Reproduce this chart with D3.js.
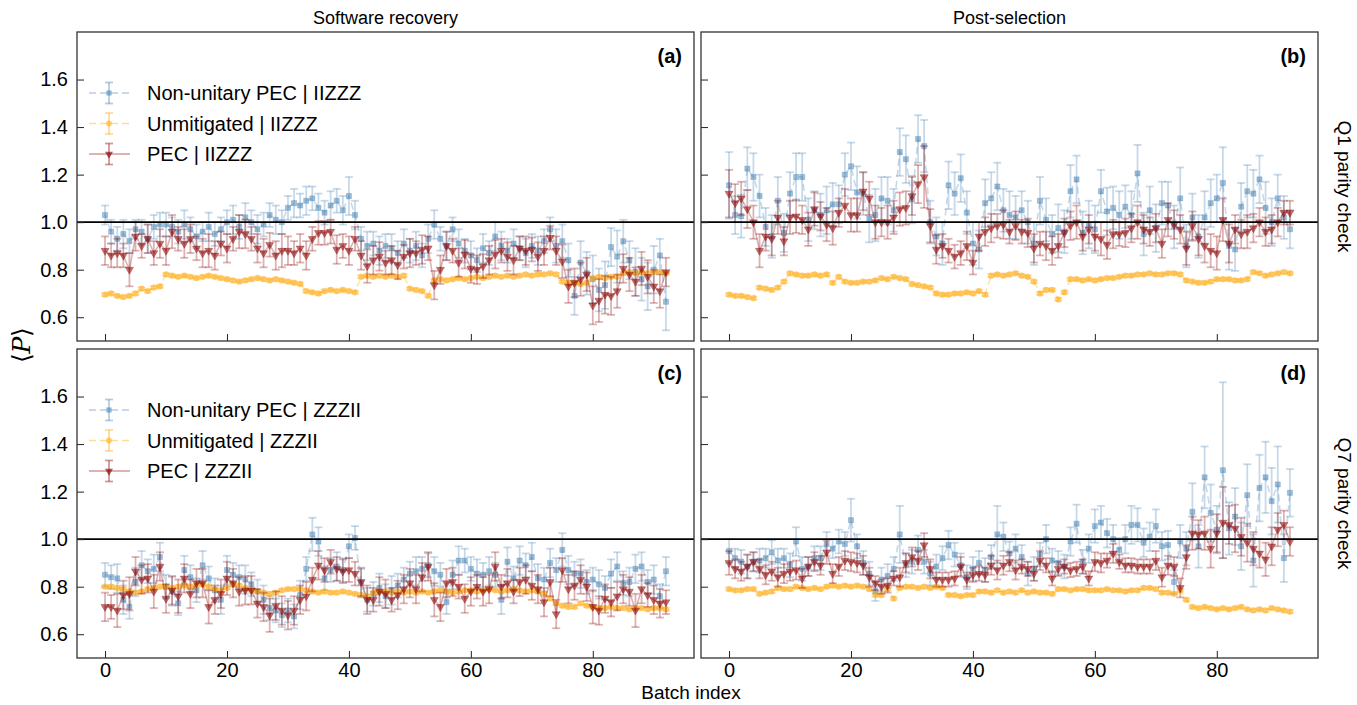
<!DOCTYPE html>
<html>
<head>
<meta charset="utf-8">
<script src="https://cdn.jsdelivr.net/npm/d3@7"></script>
<style>
body { margin: 0; background: #fff; }
text { font-family: "Liberation Sans", Arial, sans-serif; fill: #000; }
</style>
</head>
<body>
<div id="viz"></div>
<script>
// tick labels
const xTicks = [0, 20, 40, 60, 80];
const yTicks = [0.6, 0.8, 1.0, 1.2, 1.4, 1.6];
const seriesNames = ['Non-unitary PEC', 'Unmitigated', 'PEC'];

// ---- (a) software recovery, Q1 / IIZZZ ----
const aNonUnitary = [
1.03, 0.96, 0.93, 0.95, 0.92, 0.97, 0.96, 0.93, 0.98, 0.99,
0.99, 0.98, 0.96, 0.99, 0.97, 0.94, 0.96, 0.98, 0.95, 0.97,
1.00, 1.01, 0.98, 1.02, 1.00, 0.97, 0.99, 1.03, 1.01, 1.00,
1.06, 1.08, 1.07, 1.09, 1.10, 1.06, 1.04, 1.07, 1.09, 1.05,
1.11, 1.03, 0.93, 0.90, 0.91, 0.88, 0.90, 0.89, 0.87, 0.91,
0.88, 0.90, 0.86, 0.93, 0.99, 0.93, 0.90, 0.97, 0.91, 0.88,
0.86, 0.84, 0.89, 0.87, 0.94, 0.90, 0.88, 0.91, 0.89, 0.87,
0.90, 0.88, 0.92, 0.97, 0.90, 0.92, 0.84, 0.69, 0.83, 0.785,
0.76, 0.715, 0.735, 0.895, 0.855, 0.92, 0.84, 0.79, 0.76, 0.73,
0.80, 0.86, 0.665];
const aNonUnitaryErr = [
0.04, 0.05, 0.05, 0.06, 0.05, 0.04, 0.05, 0.06, 0.05, 0.05,
0.05, 0.04, 0.05, 0.06, 0.05, 0.05, 0.04, 0.06, 0.05, 0.05,
0.05, 0.06, 0.05, 0.06, 0.05, 0.06, 0.05, 0.05, 0.06, 0.05,
0.05, 0.06, 0.05, 0.06, 0.05, 0.06, 0.05, 0.06, 0.05, 0.06,
0.08, 0.06, 0.05, 0.06, 0.05, 0.06, 0.05, 0.06, 0.05, 0.06,
0.05, 0.06, 0.05, 0.06, 0.06, 0.05, 0.06, 0.05, 0.06, 0.05,
0.06, 0.05, 0.06, 0.05, 0.06, 0.06, 0.05, 0.06, 0.05, 0.06,
0.05, 0.06, 0.05, 0.05, 0.07, 0.07, 0.07, 0.08, 0.09, 0.09,
0.10, 0.09, 0.10, 0.08, 0.11, 0.09, 0.08, 0.10, 0.09, 0.10,
0.10, 0.07, 0.12];
const aUnmit = [
0.695, 0.70, 0.69, 0.685, 0.69, 0.70, 0.72, 0.71, 0.725, 0.73,
0.78, 0.775, 0.77, 0.775, 0.77, 0.765, 0.77, 0.775, 0.77, 0.765,
0.76, 0.755, 0.75, 0.755, 0.76, 0.765, 0.76, 0.755, 0.76, 0.755,
0.75, 0.745, 0.74, 0.71, 0.705, 0.70, 0.71, 0.715, 0.71, 0.715,
0.71, 0.705, 0.77, 0.775, 0.77, 0.775, 0.77, 0.775, 0.77, 0.775,
0.72, 0.715, 0.71, 0.69, 0.755, 0.76, 0.755, 0.76, 0.765, 0.76,
0.765, 0.77, 0.765, 0.77, 0.775, 0.77, 0.775, 0.77, 0.775, 0.78,
0.775, 0.78, 0.78, 0.785, 0.78, 0.75, 0.745, 0.745, 0.74, 0.745,
0.765, 0.77, 0.765, 0.77, 0.77, 0.785, 0.79, 0.785, 0.79, 0.785,
0.79, 0.79, 0.785];
const aPec = [
0.88, 0.86, 0.87, 0.86, 0.80, 0.94, 0.90, 0.93, 0.87, 0.91,
0.88, 0.96, 0.93, 0.91, 0.93, 0.89, 0.87, 0.88, 0.86, 0.91,
0.89, 0.93, 0.96, 0.95, 0.93, 0.89, 0.87, 0.905, 0.86, 0.88,
0.88, 0.87, 0.89, 0.86, 0.93, 0.955, 0.955, 0.96, 0.885, 0.90,
0.88, 0.93, 0.86, 0.815, 0.84, 0.856, 0.83, 0.84, 0.82, 0.855,
0.87, 0.87, 0.885, 0.89, 0.735, 0.80, 0.90, 0.88, 0.83, 0.865,
0.805, 0.80, 0.815, 0.84, 0.865, 0.88, 0.855, 0.84, 0.89, 0.88,
0.885, 0.855, 0.88, 0.935, 0.88, 0.835, 0.73, 0.745, 0.76, 0.78,
0.65, 0.67, 0.695, 0.69, 0.71, 0.805, 0.78, 0.75, 0.805, 0.77,
0.73, 0.71, 0.79];
const aPecErr = [
0.06, 0.05, 0.06, 0.05, 0.07, 0.06, 0.05, 0.06, 0.05, 0.06,
0.06, 0.07, 0.05, 0.06, 0.06, 0.05, 0.06, 0.07, 0.06, 0.05,
0.06, 0.05, 0.07, 0.06, 0.05, 0.06, 0.06, 0.05, 0.06, 0.07,
0.06, 0.05, 0.06, 0.06, 0.05, 0.05, 0.05, 0.05, 0.06, 0.05,
0.06, 0.05, 0.06, 0.07, 0.06, 0.06, 0.05, 0.06, 0.06, 0.05,
0.06, 0.05, 0.06, 0.05, 0.06, 0.06, 0.06, 0.05, 0.06, 0.06,
0.06, 0.06, 0.05, 0.06, 0.06, 0.05, 0.06, 0.06, 0.05, 0.06,
0.05, 0.06, 0.06, 0.05, 0.06, 0.07, 0.07, 0.06, 0.07, 0.07,
0.08, 0.09, 0.08, 0.08, 0.07, 0.06, 0.07, 0.06, 0.07, 0.07,
0.07, 0.07, 0.06];

// ---- (b) post-selection, Q1 / IIZZZ ----
const bNonUnitary = [
1.155, 1.03, 1.025, 1.225, 1.19, 1.11, 0.98, 0.94, 1.09, 0.955,
1.12, 1.19, 1.19, 1.01, 1.05, 1.03, 1.05, 1.075, 1.075, 1.20,
1.235, 1.125, 1.12, 1.015, 1.03, 1.10, 1.09, 1.05, 1.295, 1.265,
1.095, 1.35, 1.32, 1.0, 0.94, 0.91, 1.155, 1.12, 1.185, 1.04,
0.91, 0.885, 1.08, 1.10, 1.15, 1.05, 1.03, 1.02, 1.05, 1.0,
0.91, 1.09, 1.01, 0.95, 0.975, 0.96, 1.13, 1.18, 0.955, 0.99,
0.97, 1.13, 1.045, 1.06, 1.03, 1.065, 1.03, 1.205, 0.95, 1.05,
0.975, 1.08, 1.07, 0.98, 1.10, 0.90, 1.02, 0.94, 1.02, 1.08,
1.10, 1.165, 0.90, 0.885, 1.065, 1.13, 1.12, 1.18, 1.06, 1.0,
1.10, 1.02, 0.97];
const bNonUnitaryErr = [
0.14, 0.08, 0.09, 0.09, 0.10, 0.09, 0.08, 0.09, 0.10, 0.08,
0.09, 0.10, 0.10, 0.09, 0.08, 0.09, 0.10, 0.09, 0.08, 0.09,
0.10, 0.11, 0.09, 0.10, 0.11, 0.09, 0.10, 0.09, 0.10, 0.10,
0.10, 0.10, 0.11, 0.09, 0.08, 0.09, 0.10, 0.09, 0.10, 0.09,
0.09, 0.08, 0.10, 0.11, 0.10, 0.09, 0.10, 0.09, 0.08, 0.09,
0.09, 0.10, 0.09, 0.08, 0.10, 0.09, 0.11, 0.10, 0.09, 0.10,
0.10, 0.09, 0.10, 0.09, 0.10, 0.09, 0.10, 0.12, 0.09, 0.10,
0.10, 0.09, 0.10, 0.09, 0.13, 0.09, 0.10, 0.09, 0.11, 0.10,
0.10, 0.15, 0.10, 0.09, 0.10, 0.11, 0.10, 0.10, 0.11, 0.10,
0.10, 0.09, 0.08];
const bUnmit = [
0.695, 0.69, 0.69, 0.685, 0.68, 0.725, 0.72, 0.715, 0.725, 0.75,
0.785, 0.78, 0.775, 0.775, 0.78, 0.775, 0.78, 0.745, 0.77, 0.75,
0.745, 0.745, 0.75, 0.75, 0.755, 0.765, 0.76, 0.77, 0.765, 0.76,
0.74, 0.735, 0.73, 0.725, 0.70, 0.695, 0.695, 0.70, 0.70, 0.705,
0.70, 0.71, 0.695, 0.775, 0.78, 0.775, 0.78, 0.785, 0.775, 0.77,
0.75, 0.70, 0.715, 0.715, 0.675, 0.705, 0.76, 0.76, 0.755, 0.76,
0.755, 0.76, 0.765, 0.765, 0.77, 0.775, 0.775, 0.78, 0.78, 0.785,
0.78, 0.78, 0.785, 0.785, 0.78, 0.755, 0.75, 0.745, 0.745, 0.75,
0.76, 0.76, 0.76, 0.755, 0.755, 0.76, 0.79, 0.785, 0.775, 0.78,
0.785, 0.79, 0.785];
const bPec = [
1.12, 1.08, 1.10, 1.055, 1.0, 0.88, 0.94, 0.93, 1.02, 0.92,
1.02, 1.025, 1.01, 0.97, 1.055, 1.025, 0.99, 0.975, 1.04, 1.07,
1.03, 1.03, 1.13, 1.10, 1.0, 1.0, 1.0, 1.02, 1.055, 1.06,
1.11, 1.16, 1.19, 0.985, 0.885, 0.90, 0.88, 0.855, 0.87, 0.90,
0.83, 0.94, 0.96, 0.975, 0.985, 0.99, 0.96, 0.985, 0.96, 0.955,
0.89, 0.91, 0.90, 0.88, 0.90, 0.955, 0.985, 1.0, 0.94, 0.97,
0.94, 0.93, 0.905, 0.95, 0.95, 0.955, 0.975, 1.0, 0.97, 0.96,
0.975, 0.91, 1.01, 0.99, 0.97, 0.89, 0.985, 0.93, 0.90, 0.88,
0.87, 1.01, 0.91, 0.97, 0.95, 0.96, 0.975, 1.0, 0.96, 0.97,
1.0, 1.04, 1.04];
const bPecErr = [
0.10, 0.08, 0.07, 0.08, 0.07, 0.07, 0.06, 0.07, 0.07, 0.06,
0.07, 0.07, 0.06, 0.07, 0.07, 0.06, 0.07, 0.07, 0.06, 0.07,
0.07, 0.07, 0.08, 0.07, 0.07, 0.06, 0.07, 0.07, 0.07, 0.07,
0.08, 0.08, 0.13, 0.07, 0.06, 0.05, 0.05, 0.05, 0.05, 0.06,
0.05, 0.06, 0.06, 0.06, 0.05, 0.06, 0.05, 0.06, 0.05, 0.06,
0.06, 0.05, 0.06, 0.06, 0.05, 0.06, 0.06, 0.07, 0.06, 0.06,
0.06, 0.07, 0.06, 0.06, 0.05, 0.06, 0.06, 0.07, 0.06, 0.06,
0.06, 0.06, 0.07, 0.06, 0.06, 0.07, 0.06, 0.07, 0.07, 0.07,
0.07, 0.09, 0.08, 0.06, 0.06, 0.07, 0.06, 0.06, 0.06, 0.06,
0.06, 0.05, 0.05];

// ---- (c) software recovery, Q7 / ZZZII ----
const cNonUnitary = [
0.85, 0.84, 0.835, 0.745, 0.715, 0.82, 0.89, 0.865, 0.875, 0.925,
0.80, 0.78, 0.73, 0.87, 0.84, 0.785, 0.89, 0.835, 0.785, 0.745,
0.87, 0.85, 0.84, 0.83, 0.81, 0.78, 0.745, 0.71, 0.70, 0.68,
0.70, 0.675, 0.765, 0.875, 1.02, 0.99, 0.835, 0.87, 0.885, 0.87,
0.97, 1.005, 0.815, 0.745, 0.77, 0.795, 0.76, 0.785, 0.805, 0.83,
0.855, 0.865, 0.875, 0.89, 0.865, 0.85, 0.735, 0.85, 0.91, 0.91,
0.875, 0.855, 0.85, 0.865, 0.85, 0.745, 0.905, 0.835, 0.91, 0.89,
0.925, 0.835, 0.83, 0.90, 0.87, 0.955, 0.87, 0.855, 0.855, 0.82,
0.83, 0.81, 0.795, 0.855, 0.885, 0.815, 0.82, 0.875, 0.885, 0.82,
0.83, 0.76, 0.865];
const cNonUnitaryErr = [
0.05, 0.05, 0.06, 0.06, 0.05, 0.06, 0.06, 0.05, 0.06, 0.06,
0.05, 0.06, 0.05, 0.06, 0.05, 0.05, 0.06, 0.05, 0.05, 0.06,
0.06, 0.05, 0.05, 0.06, 0.05, 0.05, 0.06, 0.05, 0.05, 0.05,
0.05, 0.05, 0.06, 0.05, 0.07, 0.06, 0.05, 0.05, 0.06, 0.05,
0.05, 0.05, 0.06, 0.05, 0.05, 0.06, 0.05, 0.06, 0.05, 0.05,
0.05, 0.06, 0.05, 0.05, 0.06, 0.05, 0.05, 0.06, 0.06, 0.05,
0.05, 0.06, 0.05, 0.06, 0.05, 0.06, 0.06, 0.05, 0.06, 0.05,
0.06, 0.06, 0.05, 0.06, 0.05, 0.07, 0.06, 0.05, 0.06, 0.05,
0.05, 0.06, 0.05, 0.06, 0.06, 0.05, 0.06, 0.06, 0.06, 0.05,
0.06, 0.05, 0.06];
const cUnmit = [
0.80, 0.80, 0.795, 0.79, 0.78, 0.775, 0.78, 0.79, 0.795, 0.80,
0.80, 0.795, 0.80, 0.805, 0.80, 0.805, 0.81, 0.80, 0.79, 0.785,
0.795, 0.81, 0.805, 0.795, 0.785, 0.78, 0.775, 0.77, 0.775, 0.785,
0.79, 0.79, 0.79, 0.785, 0.78, 0.775, 0.78, 0.775, 0.775, 0.78,
0.775, 0.77, 0.765, 0.76, 0.775, 0.78, 0.78, 0.775, 0.78, 0.775,
0.78, 0.775, 0.78, 0.775, 0.78, 0.785, 0.78, 0.775, 0.78, 0.785,
0.785, 0.78, 0.785, 0.79, 0.785, 0.78, 0.785, 0.79, 0.785, 0.78,
0.785, 0.78, 0.77, 0.75, 0.73, 0.72, 0.715, 0.715, 0.73, 0.72,
0.715, 0.71, 0.71, 0.715, 0.71, 0.71, 0.705, 0.71, 0.71, 0.705,
0.71, 0.71, 0.705];
const cPec = [
0.715, 0.715, 0.70, 0.765, 0.77, 0.865, 0.83, 0.835, 0.78, 0.885,
0.75, 0.785, 0.76, 0.835, 0.77, 0.815, 0.815, 0.715, 0.745, 0.77,
0.835, 0.815, 0.78, 0.785, 0.785, 0.73, 0.715, 0.68, 0.72, 0.70,
0.68, 0.70, 0.745, 0.76, 0.83, 0.89, 0.87, 0.905, 0.875, 0.865,
0.87, 0.855, 0.82, 0.745, 0.745, 0.78, 0.77, 0.745, 0.765, 0.79,
0.815, 0.79, 0.84, 0.885, 0.745, 0.715, 0.815, 0.82, 0.80, 0.75,
0.78, 0.80, 0.78, 0.79, 0.885, 0.80, 0.815, 0.78, 0.82, 0.83,
0.805, 0.79, 0.735, 0.82, 0.685, 0.87, 0.79, 0.805, 0.83, 0.80,
0.715, 0.70, 0.75, 0.735, 0.76, 0.79, 0.78, 0.70, 0.79, 0.765,
0.745, 0.73, 0.735];
const cPecErr = [
0.06, 0.05, 0.07, 0.06, 0.07, 0.06, 0.06, 0.06, 0.07, 0.06,
0.06, 0.06, 0.07, 0.06, 0.06, 0.06, 0.06, 0.07, 0.06, 0.06,
0.07, 0.06, 0.06, 0.06, 0.06, 0.06, 0.06, 0.07, 0.06, 0.06,
0.06, 0.06, 0.06, 0.06, 0.05, 0.06, 0.05, 0.05, 0.05, 0.05,
0.05, 0.05, 0.06, 0.06, 0.05, 0.06, 0.06, 0.05, 0.06, 0.06,
0.06, 0.06, 0.06, 0.06, 0.07, 0.06, 0.06, 0.06, 0.05, 0.06,
0.06, 0.05, 0.06, 0.06, 0.06, 0.05, 0.06, 0.05, 0.06, 0.06,
0.06, 0.06, 0.06, 0.06, 0.06, 0.05, 0.06, 0.06, 0.06, 0.06,
0.07, 0.06, 0.06, 0.06, 0.06, 0.06, 0.06, 0.07, 0.06, 0.05,
0.06, 0.06, 0.05];

// ---- (d) post-selection, Q7 / ZZZII ----
const dNonUnitary = [
0.95, 0.92, 0.905, 0.885, 0.905, 0.91, 0.92, 0.945, 0.91, 0.92,
0.89, 0.99, 0.875, 0.885, 0.92, 0.92, 0.98, 0.96, 0.99, 0.98,
1.08, 0.97, 0.90, 0.855, 0.78, 0.83, 0.845, 0.875, 1.02, 0.89,
0.905, 0.955, 0.905, 0.855, 0.885, 0.92, 0.975, 0.935, 0.89, 0.84,
0.875, 0.90, 0.87, 0.925, 1.02, 1.01, 0.94, 0.96, 0.925, 0.855,
0.875, 0.935, 1.0, 0.91, 0.90, 0.885, 0.99, 1.065, 0.905, 0.96,
1.055, 1.07, 1.025, 1.0, 0.955, 1.0, 1.06, 1.06, 0.985, 1.01,
1.055, 0.97, 0.975, 0.82, 0.99, 0.96, 1.115, 0.97, 1.26, 1.11,
1.04, 1.29, 1.045, 1.095, 0.97, 1.185, 0.91, 1.215, 1.26, 1.16,
1.23, 0.92, 1.195];
const dNonUnitaryErr = [
0.05, 0.04, 0.05, 0.05, 0.04, 0.05, 0.04, 0.05, 0.05, 0.04,
0.05, 0.06, 0.05, 0.04, 0.05, 0.05, 0.05, 0.04, 0.05, 0.05,
0.09, 0.05, 0.05, 0.05, 0.04, 0.05, 0.05, 0.05, 0.12, 0.05,
0.05, 0.06, 0.05, 0.05, 0.05, 0.05, 0.06, 0.05, 0.05, 0.05,
0.05, 0.05, 0.05, 0.05, 0.12, 0.06, 0.05, 0.06, 0.05, 0.05,
0.05, 0.05, 0.06, 0.05, 0.05, 0.05, 0.06, 0.08, 0.05, 0.06,
0.07, 0.07, 0.06, 0.06, 0.05, 0.06, 0.08, 0.07, 0.06, 0.06,
0.07, 0.06, 0.06, 0.05, 0.07, 0.07, 0.12, 0.09, 0.13, 0.12,
0.10, 0.37, 0.11, 0.12, 0.10, 0.13, 0.11, 0.14, 0.15, 0.14,
0.16, 0.10, 0.10];
const dUnmit = [
0.79, 0.785, 0.785, 0.79, 0.79, 0.77, 0.775, 0.78, 0.795, 0.79,
0.79, 0.80, 0.795, 0.79, 0.795, 0.79, 0.80, 0.805, 0.80, 0.805,
0.80, 0.805, 0.80, 0.79, 0.765, 0.765, 0.79, 0.75, 0.795, 0.80,
0.80, 0.795, 0.80, 0.795, 0.80, 0.795, 0.765, 0.765, 0.76, 0.765,
0.765, 0.78, 0.78, 0.775, 0.785, 0.775, 0.78, 0.775, 0.785, 0.775,
0.78, 0.775, 0.775, 0.77, 0.79, 0.79, 0.785, 0.79, 0.79, 0.785,
0.785, 0.785, 0.79, 0.785, 0.785, 0.78, 0.785, 0.785, 0.795, 0.795,
0.79, 0.775, 0.775, 0.77, 0.785, 0.745, 0.715, 0.71, 0.715, 0.71,
0.705, 0.71, 0.705, 0.71, 0.715, 0.705, 0.70, 0.705, 0.70, 0.71,
0.705, 0.70, 0.695];
const dPec = [
0.90, 0.875, 0.865, 0.885, 0.905, 0.875, 0.85, 0.865, 0.84, 0.855,
0.865, 0.87, 0.835, 0.885, 0.905, 0.89, 0.945, 0.855, 0.885, 0.91,
0.905, 0.90, 0.89, 0.84, 0.815, 0.80, 0.805, 0.835, 0.84, 0.90,
0.925, 0.91, 0.975, 0.875, 0.83, 0.83, 0.83, 0.835, 0.885, 0.83,
0.85, 0.855, 0.85, 0.89, 0.87, 0.89, 0.905, 0.87, 0.885, 0.875,
0.855, 0.91, 0.89, 0.835, 0.875, 0.885, 0.87, 0.875, 0.885, 0.835,
0.905, 0.90, 0.91, 0.94, 0.905, 0.89, 0.89, 0.885, 0.885, 0.885,
0.91, 0.84, 0.89, 0.885, 0.795, 0.925, 1.025, 1.02, 1.025, 0.96,
1.025, 1.07, 1.06, 1.045, 1.01, 0.985, 0.96, 0.94, 0.915, 0.97,
1.04, 1.06, 0.99];
const dPecErr = [
0.05, 0.04, 0.04, 0.05, 0.04, 0.04, 0.04, 0.04, 0.04, 0.04,
0.04, 0.04, 0.04, 0.04, 0.04, 0.04, 0.05, 0.04, 0.04, 0.04,
0.04, 0.04, 0.04, 0.04, 0.03, 0.03, 0.03, 0.03, 0.04, 0.04,
0.04, 0.04, 0.05, 0.04, 0.03, 0.03, 0.03, 0.03, 0.04, 0.03,
0.03, 0.03, 0.03, 0.04, 0.04, 0.04, 0.04, 0.04, 0.03, 0.03,
0.03, 0.04, 0.03, 0.03, 0.03, 0.03, 0.03, 0.03, 0.03, 0.03,
0.04, 0.04, 0.03, 0.04, 0.03, 0.03, 0.03, 0.03, 0.03, 0.03,
0.04, 0.04, 0.04, 0.04, 0.04, 0.05, 0.07, 0.06, 0.07, 0.08,
0.08, 0.15, 0.08, 0.10, 0.08, 0.08, 0.07, 0.06, 0.07, 0.08,
0.07, 0.06, 0.06];

const unmitErr = 0.006;

// ---------------- drawing ----------------
const W = 1357, H = 705;
const panelW = 617, panelH = 309;

let svg = d3.select('#viz').append('svg')
  .attr('width', W)
  .attr('height', H);

const x = d3.scaleLinear().domain([-4.6, 96.6]).range([0, panelW]);
const y = d3.scaleLinear().domain([0.5, 1.8]).range([panelH, 0]);

const styles = {
  nonunitary: { color: '#4682b4', dash: '7,4', symbol: d3.symbolSquare, size: 26, rot: 0, mop: 0.5 },
  unmit:      { color: '#ffa500', dash: '7,4', symbol: d3.symbolCircle, size: 26, rot: 0, mop: 0.45 },
  pec:        { color: '#8b0000', dash: null,  symbol: d3.symbolTriangle, size: 28, rot: 180, mop: 0.55 }
};
const barOpacity = 0.3;

const panels = [
  { id: 'a', left: 77,  top: 32,  xLab: false, yLab: true,  legend: 'IIZZZ',
    series: [['nonunitary', aNonUnitary, aNonUnitaryErr], ['unmit', aUnmit, null], ['pec', aPec, aPecErr]] },
  { id: 'b', left: 701, top: 32,  xLab: false, yLab: false, legend: null,
    series: [['nonunitary', bNonUnitary, bNonUnitaryErr], ['unmit', bUnmit, null], ['pec', bPec, bPecErr]] },
  { id: 'c', left: 77,  top: 349, xLab: true,  yLab: true,  legend: 'ZZZII',
    series: [['nonunitary', cNonUnitary, cNonUnitaryErr], ['unmit', cUnmit, null], ['pec', cPec, cPecErr]] },
  { id: 'd', left: 701, top: 349, xLab: true,  yLab: false, legend: null,
    series: [['nonunitary', dNonUnitary, dNonUnitaryErr], ['unmit', dUnmit, null], ['pec', dPec, dPecErr]] }
];

function drawSeries(g, kind, values, errs) {
  let st = styles[kind];
  let pts = values.map(function(v, i) {
    return { i: i, v: v, e: errs ? errs[i] : unmitErr };
  });
  let sg = g.append('g').attr('class', 'series-' + kind);

  sg.append('path')
    .datum(pts)
    .attr('d', d3.line().x(d => x(d.i)).y(d => y(d.v)))
    .attr('fill', 'none')
    .attr('stroke', st.color)
    .attr('stroke-width', 1.6)
    .attr('stroke-opacity', barOpacity)
    .attr('stroke-dasharray', st.dash);

  // error bars
  sg.selectAll('.eb')
    .data(pts)
  .enter().append('line')
    .attr('x1', d => x(d.i)).attr('x2', d => x(d.i))
    .attr('y1', d => y(d.v - d.e)).attr('y2', d => y(d.v + d.e))
    .attr('stroke', st.color)
    .attr('stroke-width', 1.8)
    .attr('stroke-opacity', barOpacity);

  [-1, 1].forEach(function(sgn) {
    sg.selectAll('.cap' + sgn)
      .data(pts)
    .enter().append('line')
      .attr('x1', d => x(d.i) - 4).attr('x2', d => x(d.i) + 4)
      .attr('y1', d => y(d.v + sgn * d.e)).attr('y2', d => y(d.v + sgn * d.e))
      .attr('stroke', st.color)
      .attr('stroke-width', 1.8)
      .attr('stroke-opacity', barOpacity);
  });

  let sym = d3.symbol().type(st.symbol).size(st.size);
  sg.selectAll('.mk')
    .data(pts)
  .enter().append('path')
    .attr('d', sym)
    .attr('transform', d => 'translate(' + x(d.i) + ',' + y(d.v) + ') rotate(' + st.rot + ')')
    .attr('fill', st.color)
    .attr('fill-opacity', st.mop)
    .attr('stroke', st.color)
    .attr('stroke-opacity', 0.3)
    .attr('stroke-width', 1);
}

function drawLegend(g, suffix) {
  let kinds = ['nonunitary', 'unmit', 'pec'];
  kinds.forEach(function(kind, k) {
    let st = styles[kind];
    let ly = 61 + k * 30.5;
    let lg = g.append('g');
    lg.append('line')
      .attr('x1', 12).attr('x2', 53).attr('y1', ly).attr('y2', ly)
      .attr('stroke', st.color).attr('stroke-width', 1.6)
      .attr('stroke-opacity', barOpacity + 0.1)
      .attr('stroke-dasharray', st.dash);
    lg.append('line')
      .attr('x1', 32).attr('x2', 32).attr('y1', ly - 10.5).attr('y2', ly + 10.5)
      .attr('stroke', st.color).attr('stroke-width', 1.8).attr('stroke-opacity', barOpacity + 0.1);
    [-10.5, 10.5].forEach(function(o) {
      lg.append('line')
        .attr('x1', 28).attr('x2', 36).attr('y1', ly + o).attr('y2', ly + o)
        .attr('stroke', st.color).attr('stroke-width', 1.8).attr('stroke-opacity', barOpacity + 0.1);
    });
    lg.append('path')
      .attr('d', d3.symbol().type(st.symbol).size(st.size)())
      .attr('transform', 'translate(32,' + ly + ') rotate(' + st.rot + ')')
      .attr('fill', st.color).attr('fill-opacity', st.mop + 0.1);
    lg.append('text')
      .attr('x', 70).attr('y', ly)
      .attr('dy', '0.36em')
      .style('font-size', '20px')
      .text(seriesNames[k] + ' | ' + suffix);
  });
}

panels.forEach(function(p) {
  let g = svg.append('g').attr('transform', 'translate(' + p.left + ',' + p.top + ')');

  p.series.forEach(function(s) { drawSeries(g, s[0], s[1], s[2]); });

  g.append('line')
    .attr('x1', 0).attr('x2', panelW)
    .attr('y1', y(1)).attr('y2', y(1))
    .attr('stroke', '#000').attr('stroke-width', 1.8);

  let yAxis = d3.axisLeft(y).tickValues(yTicks).tickSize(-7).tickPadding(9)
    .tickFormat(p.yLab ? d3.format('.1f') : '');
  let gy = g.append('g').call(yAxis);
  let xAxis = d3.axisBottom(x).tickValues(xTicks).tickSize(-7).tickPadding(5)
    .tickFormat(p.xLab ? d3.format('d') : '');
  let gx = g.append('g').attr('transform', 'translate(0,' + panelH + ')').call(xAxis);
  [gx, gy].forEach(function(ax) {
    ax.select('.domain').remove();
    ax.selectAll('.tick line').attr('stroke', '#222').attr('stroke-width', 1);
    ax.selectAll('.tick text').style('font-size', '20px').style('font-family', '"Liberation Sans", Arial, sans-serif').attr('fill', '#000');
  });

  g.append('rect')
    .attr('x', 0).attr('y', 0).attr('width', panelW).attr('height', panelH)
    .attr('fill', 'none').attr('stroke', '#333').attr('stroke-width', 1.3);

  g.append('text')
    .attr('x', panelW - 12).attr('y', 31)
    .attr('text-anchor', 'end')
    .style('font-size', '20px').style('font-weight', 'bold')
    .text('(' + p.id + ')');

  if (p.legend) drawLegend(g, p.legend);
});

// column titles
svg.append('text').attr('x', 77 + panelW / 2).attr('y', 24).attr('text-anchor', 'middle')
  .style('font-size', '18px').text('Software recovery');
svg.append('text').attr('x', 701 + panelW / 2).attr('y', 24).attr('text-anchor', 'middle')
  .style('font-size', '18px').text('Post-selection');

// row labels on the right
[['Q1 parity check', 32], ['Q7 parity check', 349]].forEach(function(r) {
  svg.append('text')
    .attr('transform', 'translate(1332,' + (r[1] + panelH / 2) + ') rotate(90)')
    .attr('text-anchor', 'middle')
    .attr('dy', '-0.3em')
    .style('font-size', '19px')
    .text(r[0]);
});

// axis labels
svg.append('text').attr('x', 691).attr('y', 699).attr('text-anchor', 'middle')
  .style('font-size', '19px').text('Batch index');

let yl = svg.append('text')
  .attr('transform', 'translate(30,345) rotate(-90)')
  .attr('text-anchor', 'middle')
  .style('font-size', '25px');
yl.append('tspan').style('font-family', '"DejaVu Sans", sans-serif').style('font-weight', '200').text('\u27E8');
yl.append('tspan').style('font-family', '"DejaVu Serif", serif').style('font-style', 'italic').text('P');
yl.append('tspan').style('font-family', '"DejaVu Sans", sans-serif').style('font-weight', '200').text('\u27E9');
</script>
</body>
</html>
